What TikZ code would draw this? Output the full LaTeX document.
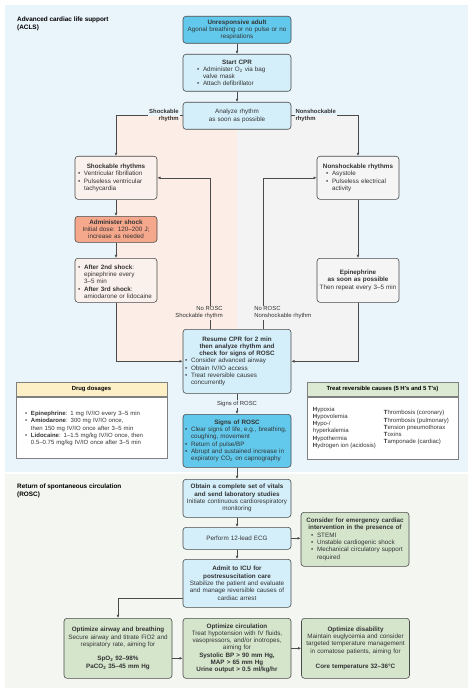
\documentclass[tikz,border=0pt]{standalone}
\usepackage{fontspec}
\setmainfont{Liberation Sans}
\usepackage{xcolor}
\usepackage{tikz}
\usetikzlibrary{shapes,arrows,positioning,calc,arrows.meta}

\definecolor{aclsbg}{HTML}{EAF4FB}
\definecolor{roscbg}{HTML}{F4F6F2}
\definecolor{peachbg}{HTML}{FCEEE6}
\definecolor{greybg}{HTML}{F3F3F3}
\definecolor{cyanbox}{HTML}{63C9EC}
\definecolor{bluebox}{HTML}{D4EFFA}
\definecolor{peachbox}{HTML}{FBF1EC}
\definecolor{shockbox}{HTML}{F5A88C}
\definecolor{greybox}{HTML}{F5F5F5}
\definecolor{greenbox}{HTML}{D5E5CC}
\definecolor{drughead}{HTML}{FDF0C6}
\definecolor{causehead}{HTML}{DCEAD3}
\definecolor{edge}{HTML}{4A4A4A}
\definecolor{txt}{HTML}{333333}

\newcommand{\bl}[1]{\par\hangindent=6pt\hangafter=1\noindent\makebox[6pt][l]{\textbullet}#1}
\newcommand{\blist}[2]{{\raggedright\leftskip=#1\relax#2\par}}

\begin{document}
\begin{tikzpicture}[x=1pt, y=-1pt,
  box/.style={draw=edge, line width=0.6pt, rounded corners=3pt, anchor=north, align=center, inner sep=2pt, text=txt, font=\fontsize{6.3}{7.3}\selectfont},
  cbox/.style={box, text width=104pt},
  sbox/.style={box, text width=78pt},
  arr/.style={draw=edge, line width=0.6pt, -{Latex[length=3.2pt,width=2.8pt]}},
  lab/.style={inner sep=1pt, text=txt, font=\fontsize{5.9}{6.9}\selectfont},
  splitlab/.style={fill=aclsbg, path picture={\fill[#1] (path picture bounding box.west) rectangle (path picture bounding box.south east);}},
  dosehead/.style={draw=edge!70, line width=0.5pt, anchor=north, minimum width=151pt, minimum height=14pt, inner sep=1pt, font=\bfseries\fontsize{5.9}{7}\selectfont},
  dosebody/.style={draw=edge!70, line width=0.5pt, anchor=north, text width=147pt, inner sep=2pt, text=txt, font=\fontsize{6}{7.3}\selectfont},
  clist/.style={anchor=west, align=left, inner sep=0pt, text=txt, font=\fontsize{6}{7.3}\selectfont},
  sectitle/.style={anchor=north west, align=left, inner sep=0pt, font=\bfseries\fontsize{6.4}{7.6}\selectfont}
]
\useasboundingbox (0,0) rectangle (474,695);

% section backgrounds
\fill[aclsbg] (5,5) rectangle (468,472);
\fill[roscbg] (5,474) rectangle (468,688);
\fill[peachbg] (116,115.5) rectangle (237,361);
\fill[greybg] (237,115.5) rectangle (358,361);

\node[sectitle] (aclstitle) at (17,17) {Advanced cardiac life support\\(ACLS)};
\node[sectitle] (rosctitle) at (17,484) {Return of spontaneous circulation\\(ROSC)};

% ACLS column
\node[cbox, fill=cyanbox, minimum height=27pt] (unresp) at (237,16) {\textbf{Unresponsive adult}\\Agonal breathing or no pulse or no\\respirations};
\node[cbox, fill=bluebox, minimum height=37pt] (startcpr) at (237,54) {\textbf{Start CPR}\par\blist{12pt}{\bl{Administer O\textsubscript{2} via bag\newline valve mask}\bl{Attach defibrillator}}};
\node[cbox, fill=bluebox, minimum height=27pt] (analyze) at (237,102) {Analyze rhythm\\as soon as possible};

\node[sbox, fill=peachbox, minimum height=43pt] (shock) at (116,156) {\textbf{Shockable rhythms}\par\blist{1pt}{\bl{Ventricular fibrillation}\bl{Pulseless ventricular\newline tachycardia}}};
\node[sbox, fill=shockbox, minimum height=26pt] (admshock) at (116,216) {\textbf{Administer shock}\\Initial dose: 120--200 J;\\increase as needed};
\node[sbox, fill=peachbox, minimum height=44pt] (after) at (116,258) {\blist{1pt}{\bl{\textbf{After 2nd shock}:\newline epinephrine every\newline 3--5 min}\bl{\textbf{After 3rd shock}:\newline amiodarone or lidocaine}}};

\node[sbox, fill=greybox, minimum height=43pt] (nonshock) at (358,156) {\textbf{Nonshockable rhythms}\par\blist{7pt}{\bl{Asystole}\bl{Pulseless electrical\newline activity}}};
\node[sbox, fill=greybox, minimum height=44pt] (epi) at (358,258) {\textbf{Epinephrine}\\\textbf{as soon as possible}\\Then repeat every 3--5 min};

\node[cbox, fill=bluebox, minimum height=64pt] (resume) at (237,329) {\textbf{Resume CPR for 2 min}\\\textbf{then analyze rhythm and}\\\textbf{check for signs of ROSC}\par\blist{0pt}{\bl{Consider advanced airway}\bl{Obtain IV/IO access}\bl{Treat reversible causes\newline concurrently}}};
\node[cbox, fill=cyanbox, minimum height=53pt] (rosc) at (237,414) {\textbf{Signs of ROSC}\par\blist{0pt}{\bl{Clear signs of life, e.g., breathing,\newline coughing, movement}\bl{Return of pulse/BP}\bl{Abrupt and sustained increase in\newline expiratory CO\textsubscript{2} on capnography}}};

% side tables
\node[dosehead, fill=drughead] (drughd) at (91.5,382) {Drug dosages};
\node[dosebody, fill=white, minimum height=61pt, below=0pt of drughd] (drugs) {\blist{7pt}{\bl{\textbf{Epinephrine}: 1 mg IV/IO every 3--5 min}\bl{\textbf{Amiodarone}: 300 mg IV/IO once,\newline then 150 mg IV/IO once after 3--5 min}\bl{\textbf{Lidocaine}: 1--1.5 mg/kg IV/IO once, then\newline 0.5--0.75 mg/kg IV/IO once after 3--5 min}}};

\node[dosehead, fill=causehead] (causehd) at (382.5,382) {Treat reversible causes (5 H's and 5 T's)};
\node[dosebody, fill=white, minimum height=62pt, below=0pt of causehd] (causes) {};
\node[clist] (hlist) at ([xshift=6pt]causes.west) {\textbf{H}ypoxia\\\textbf{H}ypovolemia\\\textbf{H}ypo-/\\hyperkalemia\\\textbf{H}ypothermia\\\textbf{H}ydrogen ion (acidosis)};
\node[clist] (tlist) at ([xshift=77pt]causes.west) {\textbf{T}hrombosis (coronary)\\\textbf{T}hrombosis (pulmonary)\\\textbf{T}ension pneumothorax\\\textbf{T}oxins\\\textbf{T}amponade (cardiac)};

% ROSC column
\node[cbox, fill=bluebox, minimum height=38pt] (vitals) at (237,479) {\textbf{Obtain a complete set of vitals}\\\textbf{and send laboratory studies}\\Initiate continuous cardiorespiratory\\monitoring};
\node[cbox, fill=bluebox, minimum height=22pt] (ecg) at (237,527) {Perform 12-lead ECG};
\node[cbox, fill=greenbox, minimum height=54pt] (consider) at (355,512) {\textbf{Consider for emergency cardiac}\\\textbf{intervention in the presence of}\par\blist{8pt}{\bl{STEMI}\bl{Unstable cardiogenic shock}\bl{Mechanical circulatory support\newline required}}};
\node[cbox, fill=bluebox, minimum height=48pt] (icu) at (237,559) {\textbf{Admit to ICU for}\\\textbf{postresuscitation care}\\Stabilize the patient and evaluate\\and manage reversible causes of\\cardiac arrest};

\node[cbox, fill=greenbox, minimum height=60pt] (airway) at (118,618) {\textbf{Optimize airway and breathing}\\Secure airway and titrate FiO2 and\\respiratory rate, aiming for\\[7pt]\textbf{SpO\textsubscript{2} 92--98\%}\\\textbf{PaCO\textsubscript{2} 35--45 mm Hg}};
\node[cbox, fill=greenbox, minimum height=60pt] (circ) at (237,618) {\textbf{Optimize circulation}\\Treat hypotension with IV fluids,\\vasopressors, and/or inotropes,\\aiming for\\\textbf{Systolic BP > 90 mm Hg,}\\\textbf{MAP > 65 mm Hg}\\\textbf{Urine output > 0.5 ml/kg/hr}};
\node[cbox, fill=greenbox, minimum height=60pt] (disab) at (355.5,618) {\textbf{Optimize disability}\\Maintain euglycemia and consider\\targeted temperature management\\in comatose patients, aiming for\\[8pt]\textbf{Core temperature 32--36°C}};

% connectors
\draw[arr] (unresp) -- (startcpr);
\draw[arr] (startcpr) -- (analyze);
\draw[arr] (analyze.west) -| node[lab, pos=0.02, anchor=east, align=right, splitlab=peachbg] {\textbf{Shockable}\\\textbf{rhythm}} (shock.north);
\draw[arr] (analyze.east) -| node[lab, pos=0.022, anchor=west, align=left, splitlab=greybg] {\textbf{Nonshockable}\\\textbf{rhythm}} (nonshock.north);
\draw[arr] (shock) -- (admshock);
\draw[arr] (admshock) -- (after);
\draw[arr] (after.south) |- (resume.west);
\draw[arr] (nonshock) -- (epi);
\draw[arr] (epi.south) |- (resume.east);
\draw[arr] ([xshift=-27pt]resume.north) |- node[lab, pos=0.053, anchor=east, xshift=14pt, align=right, fill=peachbg] {No ROSC\\Shockable rhythm} (shock.east);
\draw[arr] ([xshift=26pt]resume.north) |- node[lab, pos=0.053, anchor=west, xshift=-10pt, align=left, fill=greybg] {No ROSC\\Nonshockable rhythm} (nonshock.west);
\draw[arr] (resume) -- node[lab, fill=aclsbg] {Signs of ROSC} (rosc);
\draw[arr] (rosc) -- (vitals);
\draw[arr] (vitals) -- (ecg);
\draw[arr] (ecg) -- (icu);
\draw[arr] (ecg.east) -- (consider.west |- ecg.east);
\draw[arr] ([yshift=-15pt]icu.west) -| (airway.north);
\draw[arr] ([yshift=-10pt]airway.east) -- ([yshift=-10pt]circ.west);
\draw[arr] (circ) -- (disab);
\end{tikzpicture}
\end{document}
